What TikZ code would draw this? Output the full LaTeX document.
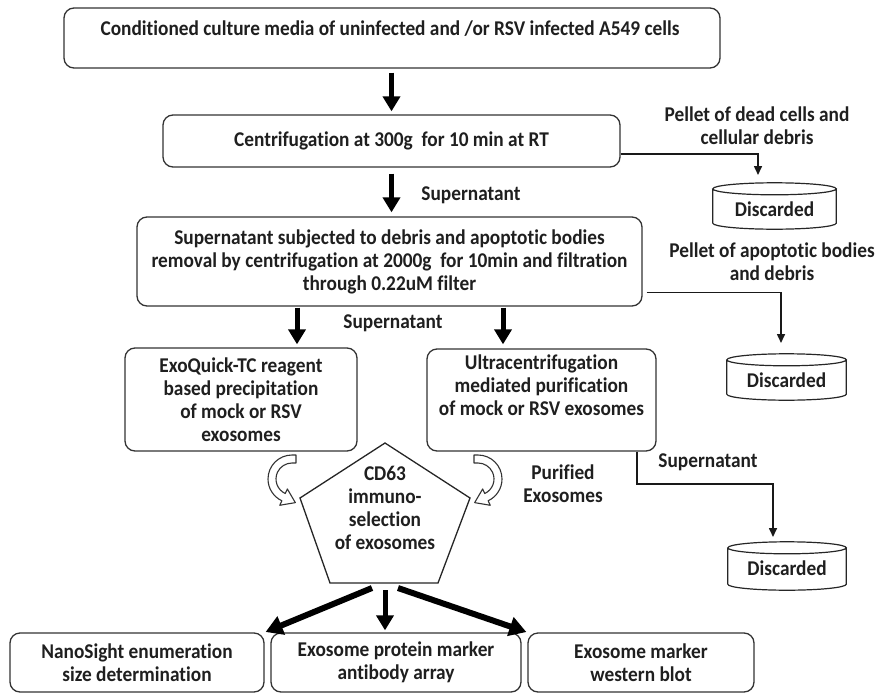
\documentclass[tikz,border=0pt]{standalone}
\usepackage{fontspec}
\setmainfont{Carlito}[FakeStretch=0.92, Ligatures=NoCommon]
\usetikzlibrary{arrows.meta,calc}
\tikzset{
  txt/.style={font=\bfseries\fontsize{21pt}{23pt}\selectfont, align=center, inner sep=0pt, text=black!88},
  box/.style={draw=black!80, line width=1.3pt, rounded corners=10pt, fill=white},
  bigarrow/.style={line width=5pt, -{Triangle[width=17pt,length=15pt]}},
  diagarrow/.style={line width=6pt, -{Triangle[width=19pt,length=17pt]}},
  conn/.style={line width=1.6pt, draw=black!90, -{Triangle[width=8pt,length=9pt]}},
  hollow/.style={draw=black!80, line width=1.1pt, fill=white, line join=round},
  cylline/.style={draw=black!85, line width=1.2pt},
}
\newcommand\drawcyl[1]{%
  \draw[cylline] let \p1=(#1.north west), \p2=(#1.south east), \n1={(\x2-\x1)/2} in
    (\x1,\y1-6pt) -- (\x1,\y2+6pt) arc[start angle=180, end angle=360, x radius=\n1, y radius=6pt] -- (\x2,\y1-6pt)
    (\x1+\n1,\y1-6pt) ellipse[x radius=\n1, y radius=6pt];}
\begin{document}
\begin{tikzpicture}[x=1pt, y=-1pt]
\useasboundingbox (0,0) rectangle (875,693);

% main boxes
\node[box, minimum width=656pt, minimum height=60pt] (b1) at (392,38) {};
\node[txt] (t1) at (390,29) {Conditioned culture media of uninfected and /or RSV infected A549 cells};
\node[box, minimum width=457pt, minimum height=52pt, txt] (b2) at (391.5,141) {Centrifugation at 300g\ \ for 10 min at RT};
\node[box, minimum width=505pt, minimum height=89pt, txt] (b3) at (389.5,261.5) {Supernatant subjected to debris and apoptotic bodies\\removal by centrifugation at 2000g\ \ for 10min and filtration\\through 0.22uM filter};
\node[box, minimum width=232pt, minimum height=103pt, txt] (b4) at (241,399.5) {ExoQuick-TC reagent\\based precipitation\\of mock or RSV\\exosomes};
\node[box, minimum width=229pt, minimum height=102pt] (b5) at (541.5,400) {};
\node[txt] (t5) at (541.5,385) {Ultracentrifugation\\mediated purification\\of mock or RSV exosomes};

% cylinders
\node[minimum width=123pt, minimum height=46pt, inner sep=0pt] (d1) at (774.5,206) {};
\node[minimum width=119pt, minimum height=46pt, inner sep=0pt] (d2) at (786.5,377) {};
\node[minimum width=118pt, minimum height=48pt, inner sep=0pt] (d3) at (787,566) {};
\drawcyl{d1}\drawcyl{d2}\drawcyl{d3}
\node[txt] at ($(d1.center)+(0,3)$) {Discarded};
\node[txt] at ($(d2.center)+(0,3)$) {Discarded};
\node[txt] at ($(d3.center)+(0,2)$) {Discarded};

% labels
\node[txt] (l1) at (757,126) {Pellet of dead cells and\\cellular debris};
\node[txt] (l2) at (471,195) {Supernatant};
\node[txt] (l3) at (772,262) {Pellet of apoptotic bodies\\and debris};
\node[txt] (l4) at (393,323) {Supernatant};
\node[txt] (l5) at (563,484) {Purified\\Exosomes};
\node[txt] (l6) at (708,462) {Supernatant};

% pentagon
\coordinate (pT) at (385,443);
\coordinate (pR) at (470,498);
\coordinate (pBR) at (438,583);
\coordinate (pBL) at (330,583);
\coordinate (pL) at (300,498);
\draw[draw=black!85, line width=1.3pt, fill=white, line join=miter] (pT) -- (pR) -- (pBR) -- (pBL) -- (pL) -- cycle;
\node[txt] (pent) at (385,508) {CD63\\immuno-\\selection\\of exosomes};

% bottom boxes
\node[box, minimum width=254pt, minimum height=59pt, txt] (ba) at (137,662.5) {NanoSight enumeration\\size determination};
\node[box, minimum width=250pt, minimum height=59pt, txt] (bb) at (396,662.5) {Exosome protein marker\\antibody array};
\node[box, minimum width=226pt, minimum height=59pt, txt] (bc) at (641,662.5) {Exosome marker\\western blot};

% big arrows
\draw[bigarrow, shorten <=4pt, shorten >=3pt] (b1.south -| b2.north) -- (b2.north);
\draw[bigarrow, shorten <=6pt, shorten >=4pt] (b2.south) -- (b3.north -| b2.south);
\coordinate (s4) at (297,306);
\coordinate (s5) at (503,306);
\draw[bigarrow, shorten <=1pt, shorten >=3pt] (b3.south -| s4) -- (b4.north -| s4);
\draw[bigarrow, shorten <=1pt, shorten >=3pt] (b3.south -| s5) -- (b4.north -| s5);

% connectors to discarded
\coordinate (k1) at (758,175);
\draw[conn] ($(b2.east)+(0,13)$) -| (k1);
\coordinate (k2) at (781,343);
\draw[conn] ($(b3.east)+(4,31)$) -| (k2);
\coordinate (k3) at (637,484);
\coordinate (k3b) at (773,537);
\draw[conn] (b5.south -| k3) -- (k3) -| (k3b);

% curved hollow arrows
\coordinate (cl) at (292,479);
\coordinate (cr) at (478,479);
\draw[hollow] (296,455) -- ($(cl)+(270:24)$) arc[start angle=270,end angle=115,radius=24]
  -- ($(cl)+(115:29)$) -- ($(cl)+(115:20)+(25:13)$) -- ($(cl)+(115:11)$) -- ($(cl)+(115:16)$)
  arc[start angle=115,end angle=270,radius=16] -- (296,463) -- cycle;
\draw[hollow] (474,455) -- ($(cr)+(-90:24)$) arc[start angle=-90,end angle=65,radius=24]
  -- ($(cr)+(65:29)$) -- ($(cr)+(65:20)+(155:13)$) -- ($(cr)+(65:11)$) -- ($(cr)+(65:16)$)
  arc[start angle=65,end angle=-90,radius=16] -- (474,463) -- cycle;

% bottom arrows
\coordinate (q1) at (372,588);
\coordinate (q2) at (385,590);
\coordinate (q3) at (398,588);
\draw[diagarrow, shorten >=1pt] (q1) -- (ba.north east);
\draw[bigarrow, shorten >=2pt] (q2) -- (q2 |- bb.north);
\draw[diagarrow, shorten >=1pt] (q3) -- (bc.north west);
\end{tikzpicture}
\end{document}
